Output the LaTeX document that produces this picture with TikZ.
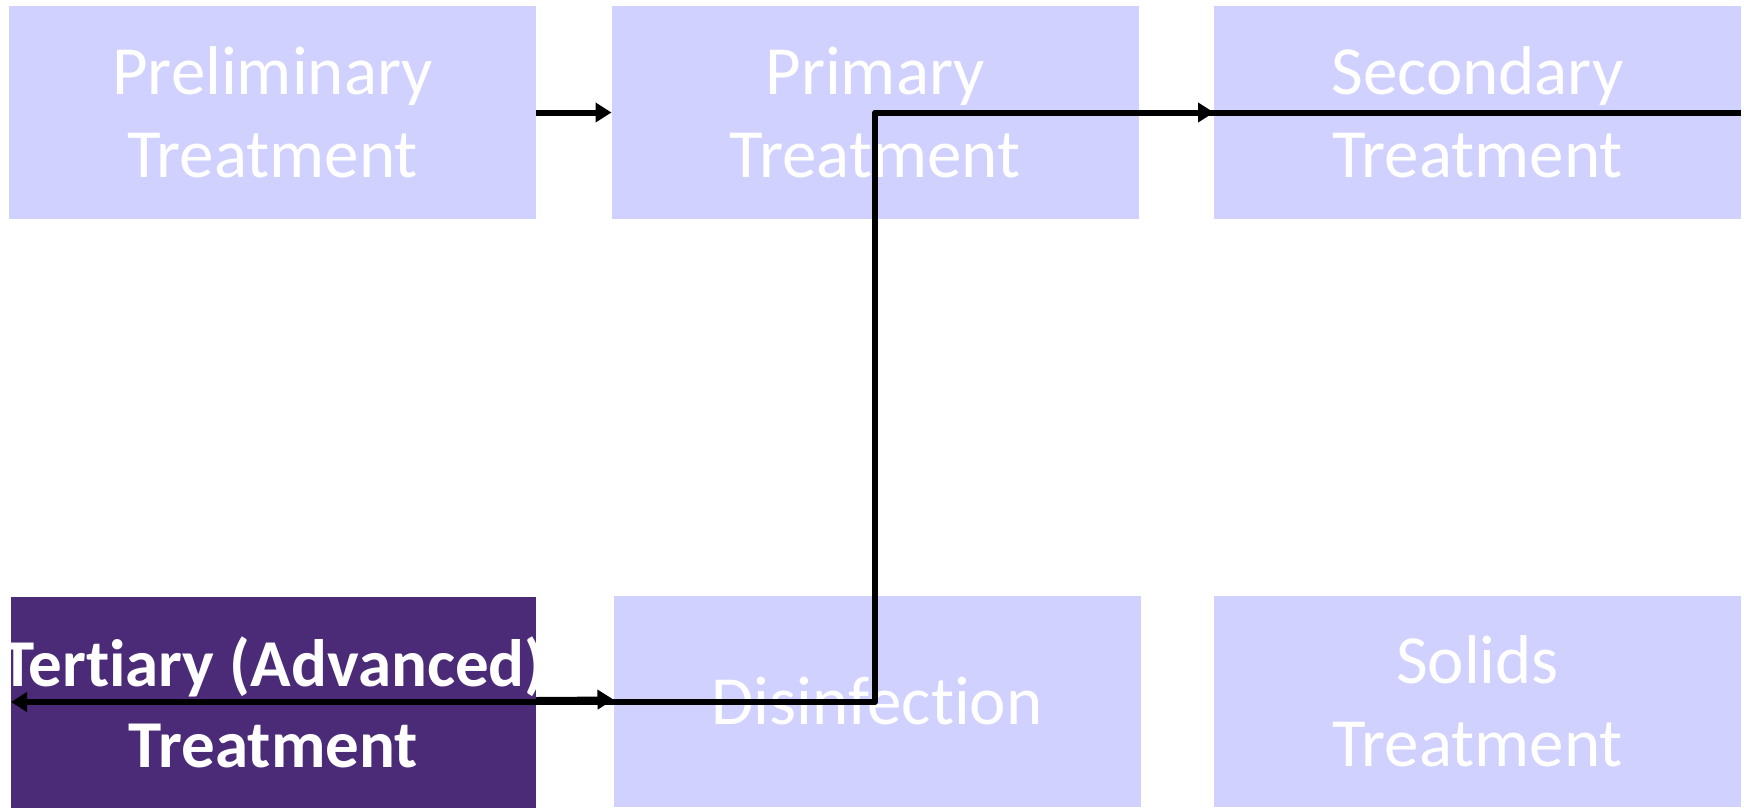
\documentclass[tikz,border=0pt]{standalone}
\usepackage{fontspec}
\setmainfont{Carlito}[Ligatures=NoCommon]
\usetikzlibrary{arrows.meta}
\definecolor{boxlight}{RGB}{209,209,255}
\definecolor{boxdark}{RGB}{75,43,120}
\begin{document}
\begin{tikzpicture}[x=1pt,y=-1pt,
  stagebox/.style={rectangle, inner sep=0pt, outer sep=0pt,
    minimum width=527pt, text=white, align=center,
    font=\fontsize{69}{83}\selectfont},
  lightbox/.style={stagebox, fill=boxlight},
  darkbox/.style={stagebox, fill=boxdark},
  conn/.style={line width=6pt, black},
  tip/.style={-{Triangle[length=16pt,width=19pt]}}]
\useasboundingbox (0,0) rectangle (1744,807);

% top row
\node[lightbox, minimum height=213pt] (prel) at (272.5,112.5) {Preliminary\\Treatment};
\node[lightbox, minimum height=213pt] (prim) at (875,112.5) {Primary\\Treatment};
\node[lightbox, minimum height=213pt] (sec) at (1477.5,112.5) {Secondary\\Treatment};

% bottom row; the bold label is clipped to its box
\node[darkbox, minimum width=525pt, minimum height=211pt,
  path picture={\node[text=white, align=center,
      font=\fontsize{67}{81}\selectfont\bfseries]
      at (path picture bounding box.center) {Tertiary (Advanced)\\Treatment};}]
  (tert) at (273.5,702) {};
\node[lightbox, minimum height=211pt] (dis) at (877,701.5) {Disinfection};
\node[lightbox, minimum height=211pt] (sol) at (1477.5,701.5) {Solids\\Treatment};

% connectors
\draw[conn, tip] (prel.east) -- (prim.west);
\draw[conn, tip] (prim.center) -- (sec.west);
\draw[conn, tip, line join=round] (sec.east) -- (prim.center) |- (tert.west);
\draw[conn, tip] ([yshift=2pt]tert.east) -- ([yshift=2pt]dis.west);
\end{tikzpicture}
\end{document}
